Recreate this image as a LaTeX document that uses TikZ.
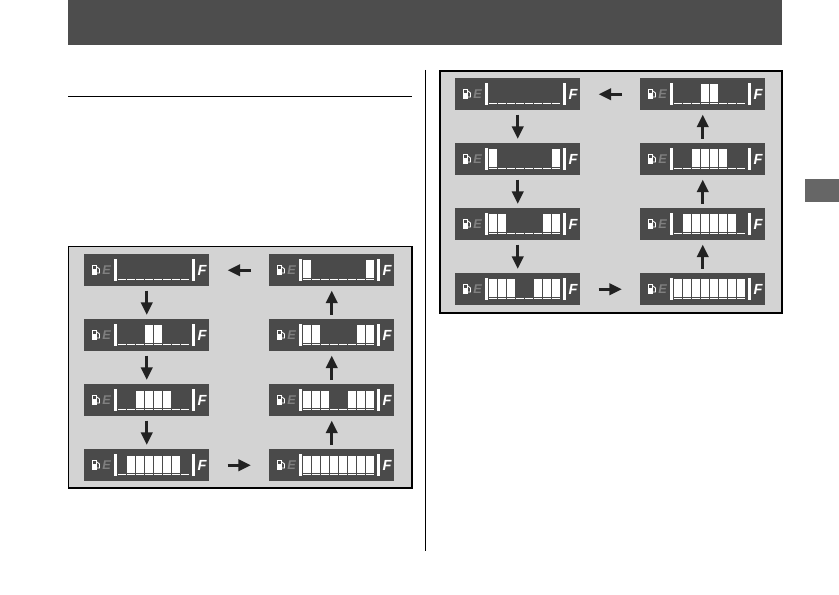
\documentclass[tikz,border=0pt]{standalone}
\usepackage{fontspec}
\setsansfont{Liberation Sans}
\usetikzlibrary{arrows.meta}
\definecolor{HeaderGray}{HTML}{4D4D4D}
\definecolor{PanelGray}{HTML}{D3D3D3}
\definecolor{GaugeGray}{HTML}{4A4A4A}
\definecolor{TabGray}{HTML}{666666}
\definecolor{ArrowDark}{HTML}{222222}
\tikzset{
  panel/.style={fill=PanelGray,draw=black,line width=0.8pt},
  gauge/.style={fill=GaugeGray,draw=none,inner sep=0pt,minimum width=93.75pt,minimum height=24pt},
  flow/.style={draw=ArrowDark,line width=2.5pt,-{Triangle[length=9.5pt,width=8.5pt]},shorten >=3pt,shorten <=3pt},
  flowh/.style={flow,shorten >=13.5pt,shorten <=13.5pt},
  letter/.style={inner sep=0pt}
}
% #1 name, #2 x, #3 y (top left corner), #4 lit segments
\newcommand{\fuelgauge}[4]{
  \node[gauge,anchor=north west] (#1) at (#2,#3) {};
  \begin{scope}[shift={(#2,#3)}]
    \fill[white] (8,11) rectangle (13,21);
    \fill[GaugeGray] (9.3,12.2) rectangle (11.7,15);
    \draw[white,line width=0.6pt] (13,13)--(15.5,15)--(15.5,19)--(13,19);
    \node[letter,text=gray,font=\sffamily\bfseries\itshape\fontsize{9.5}{9.5}\selectfont] (#1e) at (22.5,16) {E};
    \node[letter,text=white,font=\sffamily\bfseries\itshape\fontsize{11}{11}\selectfont] (#1f) at (118,16) {F};
    \fill[white] (30.3,5) rectangle (32.8,27);
    \fill[white] (108.3,5) rectangle (110.8,27);
    \foreach \s in {0,...,7}
      \fill[white] ({34.2+9*\s},24.6) rectangle ({34.2+9*\s+7.9},26.4);
    \foreach \s in {#4}
      \fill[white] ({34.2+9*\s},6.5) rectangle ({34.2+9*\s+7.9},23.8);
  \end{scope}
}
\begin{document}
\begin{tikzpicture}[x=0.75pt,y=-0.75pt]
\useasboundingbox (0,0) rectangle (839,595);
\fill[HeaderGray] (68,0) rectangle (782,45);
\draw[black,line width=0.75pt] (68,97)--(412,97);
\draw[black,line width=0.75pt] (425,70)--(425,551);
\fill[TabGray] (805,179) rectangle (839,202);
\draw[panel] (68.5,246.5) rectangle (412,488);
\draw[panel] (440,71) rectangle (782,313);

% left panel
\fuelgauge{la}{84}{254}{}
\fuelgauge{lb}{84}{319}{3,4}
\fuelgauge{lc}{84}{384}{2,3,4,5}
\fuelgauge{ld}{84}{449}{1,2,3,4,5,6}
\fuelgauge{le}{269}{449}{0,1,2,3,4,5,6,7}
\fuelgauge{lf}{269}{384}{0,1,2,5,6,7}
\fuelgauge{lg}{269}{319}{0,1,6,7}
\fuelgauge{lh}{269}{254}{0,7}
\draw[flow] (la)--(lb);
\draw[flow] (lb)--(lc);
\draw[flow] (lc)--(ld);
\draw[flowh] (ld)--(le);
\draw[flow] (le)--(lf);
\draw[flow] (lf)--(lg);
\draw[flow] (lg)--(lh);
\draw[flowh] (lh)--(la);

% right panel
\fuelgauge{ra}{455}{78}{}
\fuelgauge{rb}{455}{143}{0,7}
\fuelgauge{rc}{455}{208}{0,1,6,7}
\fuelgauge{rd}{455}{273}{0,1,2,5,6,7}
\fuelgauge{re}{640}{273}{0,1,2,3,4,5,6,7}
\fuelgauge{rf}{640}{208}{1,2,3,4,5,6}
\fuelgauge{rg}{640}{143}{2,3,4,5}
\fuelgauge{rh}{640}{78}{3,4}
\draw[flow] (ra)--(rb);
\draw[flow] (rb)--(rc);
\draw[flow] (rc)--(rd);
\draw[flowh] (rd)--(re);
\draw[flow] (re)--(rf);
\draw[flow] (rf)--(rg);
\draw[flow] (rg)--(rh);
\draw[flowh] (rh)--(ra);
\end{tikzpicture}
\end{document}
